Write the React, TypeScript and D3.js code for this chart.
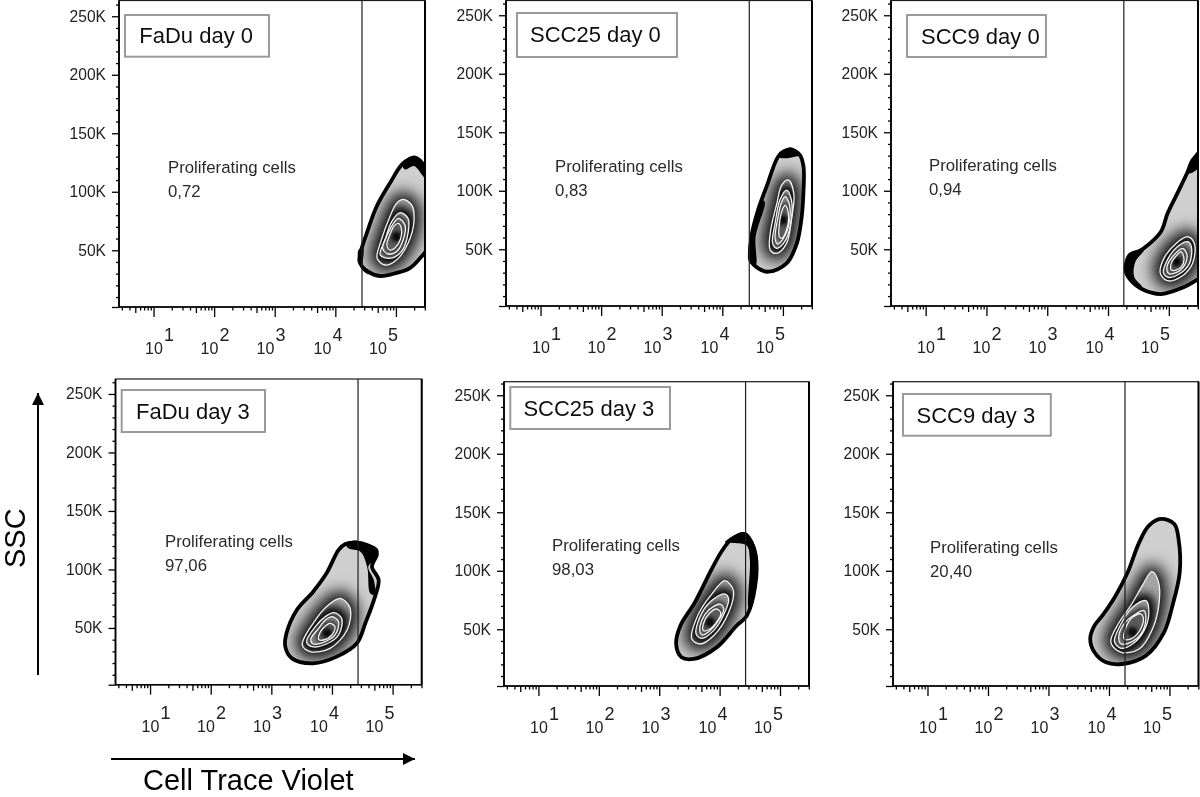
import { useEffect, useRef } from "react";
import * as d3 from "d3";

type Pt = [number, number]; // [log10 Cell Trace Violet, SSC in K]

const panelTitles = ["FaDu day 0", "SCC25 day 0", "SCC9 day 0", "FaDu day 3", "SCC25 day 3", "SCC9 day 3"];
const proliferatingValues = ["0,72", "0,83", "0,94", "97,06", "98,03", "20,40"];
const gateLogs = [4.44, 4.445, 4.26, 4.43, 4.43, 4.265];
const sscMajor = [250, 200, 150, 100, 50];
const decades = [1, 2, 3, 4, 5];

// contours
const fadu0Outline: Pt[] = [[5.31, 128.6], [5.42, 124.3], [5.56, 116], [5.6, 80], [5.5, 50], [5.4, 43.4], [5.23, 34.8], [5.01, 30.6], [4.74, 28], [4.54, 31.7], [4.4, 40.2], [4.42, 48.8], [4.52, 64.7], [4.68, 87.2], [4.9, 107.2], [5.12, 124.3]];
const fadu0Heavy: Pt[][] = [[[5.1, 124], [5.3, 131], [5.48, 124], [5.48, 112], [5.3, 122], [5.15, 119]], [[4.38, 50], [4.46, 52], [4.46, 35], [4.55, 29], [4.42, 35]]];
const fadu0Levels: Pt[][] = [
  [[5.12, 93.5], [5.26, 88.7], [5.3, 75.9], [5.2, 55.9], [5.01, 41.7], [4.82, 37.4], [4.69, 43.1], [4.76, 58.8], [4.9, 78.7], [5.01, 90.1]],
  [[5.07, 82.1], [5.2, 77.3], [5.2, 64.5], [5.09, 48.8], [4.9, 43.1], [4.74, 46], [4.82, 58.8], [4.93, 74.5]],
  [[5.04, 77.3], [5.15, 71.6], [5.12, 58.8], [5.01, 48.8], [4.87, 46.8], [4.78, 51.7], [4.87, 64.5], [4.96, 73]],
  [[5.04, 73], [5.09, 68.8], [5.07, 58.8], [4.98, 51.7], [4.9, 50.2], [4.85, 54.5], [4.91, 64.5], [4.97, 70.8]],
];
const fadu0Peak: Pt = [5.01, 61.6];

const scc250Outline: Pt[] = [[5.14, 134.8], [5.28, 130.5], [5.34, 120.6], [5.34, 100.6], [5.31, 77.8], [5.23, 55], [5.06, 37.9], [4.76, 30.8], [4.57, 34.5], [4.47, 40.8], [4.48, 60.7], [4.59, 83.5], [4.73, 103.5], [4.92, 129.1], [5.03, 134.2]];
const scc250Heavy: Pt[][] = [
  [[4.47, 63.6], [4.65, 92.1], [4.7, 90.6], [4.55, 60.7], [4.55, 36.5], [4.44, 39.4]],
  [[4.92, 129.1], [5.12, 137.1], [5.31, 130.5], [5.2, 129.1], [5.03, 127.7]],
];
const scc250Levels: Pt[][] = [
  [[5.09, 109.2], [5.18, 97.8], [5.14, 75], [5.06, 55], [4.9, 46.5], [4.79, 49.3], [4.79, 63.6], [4.9, 89.2], [4.98, 104.9]],
  [[5.06, 100.6], [5.14, 92.1], [5.13, 72.1], [5.03, 56.5], [4.9, 50.8], [4.83, 55], [4.87, 72.1], [4.95, 92.1]],
  [[5.04, 94.9], [5.11, 87.8], [5.09, 69.3], [5.01, 59.3], [4.91, 54.5], [4.87, 59.3], [4.91, 75], [4.98, 90.6]],
  [[5.04, 87.8], [5.09, 80.7], [5.06, 66.4], [4.98, 59.3], [4.94, 60.7], [4.95, 75], [5.0, 85]],
];
const scc250Peak: Pt = [5.0, 75];

const scc90Outline: Pt[] = [[5.75, 134.8], [5.5, 131.4], [5.39, 126.3], [5.31, 116.3], [5.14, 97.8], [4.98, 80.7], [4.87, 65], [4.59, 50.8], [4.37, 43.6], [4.29, 32.2], [4.37, 23.7], [4.59, 15.1], [4.87, 11.7], [5.2, 16.6], [5.5, 25.1], [5.75, 35]];
const scc90Heavy: Pt[][] = [
  [[4.26, 32.2], [4.34, 46.5], [4.59, 49.3], [4.45, 39.4], [4.43, 26.5], [4.56, 18], [4.37, 22.3]],
  [[5.5, 134.8], [5.5, 120.6], [5.36, 114.9], [5.31, 114.9], [5.39, 127.7]],
];
const scc90Levels: Pt[][] = [
  [[5.31, 60.7], [5.42, 55], [5.39, 37.9], [5.2, 26.5], [4.98, 23.1], [4.86, 29.4], [4.92, 42.2], [5.12, 55]],
  [[5.31, 56.5], [5.37, 52.2], [5.34, 37.9], [5.17, 28.8], [4.99, 26], [4.91, 30], [4.99, 42.2], [5.14, 52.2]],
  [[5.23, 50.8], [5.3, 45.1], [5.26, 36.5], [5.12, 30], [4.99, 29.4], [4.97, 35.1], [5.06, 43.6]],
  [[5.2, 47.9], [5.25, 42.2], [5.21, 35.1], [5.12, 32.2], [5.04, 32.2], [5.04, 37.9], [5.12, 44.2]],
];
const scc90Peak: Pt = [5.13, 39.4];

const fadu3Outline: Pt[] = [[4.42, 122.9], [4.22, 121.8], [4.11, 116.7], [3.91, 96.7], [3.69, 81], [3.42, 65.4], [3.25, 45.4], [3.23, 34], [3.34, 24], [3.69, 19.8], [4.08, 25.5], [4.41, 36.9], [4.55, 54], [4.71, 76.8], [4.77, 91], [4.66, 102.4], [4.74, 112.4], [4.73, 116.7], [4.58, 120.9]];
const fadu3Heavy: Pt[][] = [[[4.22, 122.4], [4.42, 124.6], [4.75, 116.7], [4.74, 109.5], [4.6, 102.4], [4.69, 91], [4.71, 78.2], [4.63, 79.6], [4.58, 102.4], [4.47, 115.2], [4.27, 118.1]]];
const fadu3Levels: Pt[][] = [
  [[4.14, 75.3], [4.3, 66.8], [4.25, 48.3], [3.97, 32.6], [3.64, 29.8], [3.51, 35.5], [3.69, 54], [3.94, 69.6]],
  [[4.03, 63.1], [4.16, 58.3], [4.11, 44], [3.91, 36.3], [3.67, 34], [3.58, 38.3], [3.75, 52.6], [3.89, 59.7]],
  [[4.0, 59.7], [4.11, 55.4], [4.05, 44], [3.89, 38.3], [3.69, 36.3], [3.65, 40.3], [3.78, 49.7], [3.89, 56.8]],
  [[3.97, 54], [4.05, 51.1], [4.0, 44], [3.86, 39.7], [3.78, 40.3], [3.81, 46.9], [3.89, 51.7]],
];
const fadu3Peak: Pt = [3.92, 45.4];

const scc253Outline: Pt[] = [[4.42, 131.4], [4.2, 127.1], [4.04, 117.1], [3.87, 101.5], [3.59, 73], [3.35, 53], [3.28, 37.4], [3.37, 26], [3.57, 24.6], [3.95, 34.5], [4.28, 53], [4.45, 61.6], [4.59, 87.2], [4.6, 112.9], [4.53, 124.3]];
const scc253Heavy: Pt[][] = [[[4.09, 124.3], [4.39, 132.8], [4.53, 127.1], [4.62, 112.9], [4.59, 87.2], [4.5, 68.7], [4.48, 68.7], [4.5, 110], [4.45, 121.4], [4.23, 123.7]]];
const scc253Levels: Pt[][] = [
  [[4.09, 91.5], [4.23, 83], [4.15, 64.4], [3.9, 44.5], [3.68, 37.4], [3.54, 41.6], [3.65, 63], [3.87, 80.1]],
  [[4.09, 80.1], [4.15, 75.8], [4.06, 61.6], [3.9, 48.8], [3.71, 42.2], [3.61, 45.9], [3.71, 64.4], [3.9, 75.8]],
  [[4.01, 71.5], [4.07, 67.3], [3.98, 57.3], [3.84, 48.8], [3.71, 45.1], [3.67, 50.2], [3.76, 63], [3.9, 69.6]],
  [[3.95, 67.3], [4.02, 63.9], [3.93, 54.5], [3.82, 49.6], [3.73, 48.8], [3.73, 54.5], [3.82, 63]],
];
const scc253Peak: Pt = [3.84, 55.9];

const scc93Outline: Pt[] = [[4.86, 144.3], [5.08, 140], [5.15, 127.2], [5.17, 98.7], [5.05, 70.2], [4.91, 47.4], [4.61, 27.4], [4.22, 20.3], [3.95, 21.7], [3.76, 30.3], [3.69, 41.7], [3.76, 53.1], [3.89, 61.6], [4.11, 78.7], [4.31, 98.7], [4.5, 124.3], [4.66, 138.6]];
const scc93Heavy: Pt[][] = [];
const scc93Levels: Pt[][] = [
  [[4.71, 99.2], [4.82, 90.1], [4.83, 73], [4.72, 50.2], [4.5, 33.1], [4.2, 30.3], [4.03, 38.8], [4.17, 56], [4.36, 70.2], [4.55, 87.3]],
  [[4.61, 74.5], [4.66, 64.5], [4.58, 48.8], [4.39, 37.4], [4.2, 33.7], [4.09, 39.4], [4.17, 51.7], [4.39, 68.8]],
  [[4.58, 65.9], [4.61, 58.8], [4.53, 46], [4.36, 38.8], [4.2, 37.4], [4.16, 43.1], [4.25, 54.5], [4.44, 63]],
  [[4.53, 63], [4.57, 57.4], [4.47, 46], [4.33, 41.1], [4.25, 41.7], [4.27, 50.2], [4.39, 60.2]],
];
const scc93Peak: Pt = [4.39, 47.4];

const outlines = [fadu0Outline, scc250Outline, scc90Outline, fadu3Outline, scc253Outline, scc93Outline];
const heavies = [fadu0Heavy, scc250Heavy, scc90Heavy, fadu3Heavy, scc253Heavy, scc93Heavy];
const levelSets = [fadu0Levels, scc250Levels, scc90Levels, fadu3Levels, scc253Levels, scc93Levels];
const peaks = [fadu0Peak, scc250Peak, scc90Peak, fadu3Peak, scc253Peak, scc93Peak];

// page layout, one entry per panel
const frames = [
  { left: 119, right: 425, top: 0.5, bottom: 307 },
  { left: 506, right: 812, top: 0.5, bottom: 306 },
  { left: 891, right: 1198, top: 0.5, bottom: 306 },
  { left: 115.5, right: 421.7, top: 379, bottom: 684.7 },
  { left: 504, right: 809, top: 381.7, bottom: 686 },
  { left: 893, right: 1198.5, top: 381.7, bottom: 686 },
];
const titleBoxes = [
  { x: 125, y: 15, w: 144, h: 41.7, tx: 139.3, ty: 43.3 },
  { x: 517, y: 13, w: 160, h: 44, tx: 530, ty: 42 },
  { x: 907, y: 15, w: 139, h: 42, tx: 921, ty: 44 },
  { x: 121.7, y: 390, w: 143.3, h: 42, tx: 136, ty: 419 },
  { x: 510.3, y: 387, w: 159.7, h: 42, tx: 523.4, ty: 416 },
  { x: 903, y: 394, w: 147.8, h: 41.7, tx: 916.5, ty: 422.7 },
];
const gateLabels = [[168, 172.7], [555, 172], [929, 171], [165, 547], [552, 551], [930, 553]];
const decadeLabelOffsets = [26, 81.5, 137.5, 194.5, 250];
const shades = ["#a4a4a4", "#969696", "#808080", "#5a5a5a"];
const blurs = [8, 5, 3, 2];
const widens = [14, 5, 3];
const FONT = "'Liberation Sans', Arial, sans-serif";

const App = () => {
  const svgRef = useRef<SVGSVGElement>(null);

  useEffect(() => {
    const root = d3.select(svgRef.current);
    root.selectAll("*").remove();
    const defs = root.append("defs");

    blurs.forEach((b, i) => {
      defs.append("filter").attr("id", `blur${i}`)
        .attr("x", "-60%").attr("y", "-60%").attr("width", "220%").attr("height", "220%")
        .append("feGaussianBlur").attr("stdDeviation", b);
    });
    // the source is a soft scan
    defs.append("filter").attr("id", "soft").attr("filterUnits", "userSpaceOnUse")
      .attr("x", 0).attr("y", 0).attr("width", 1200).attr("height", 797)
      .append("feGaussianBlur").attr("stdDeviation", 0.35);
    const head = defs.append("marker").attr("id", "arrow").attr("markerUnits", "userSpaceOnUse")
      .attr("markerWidth", 12).attr("markerHeight", 12).attr("refX", 12).attr("refY", 6).attr("orient", "auto");
    head.append("path").attr("d", "M0,0L12,6L0,12Z").attr("fill", "#000");

    const svg = root.append("g").attr("filter", "url(#soft)");
    svg.append("rect").attr("width", 1200).attr("height", 797).attr("fill", "#fff");

    frames.forEach((f, i) => {
      const x = d3.scaleLog().domain([10 ** 0.43, 10 ** 5.48]).range([f.left, f.right]);
      const y = d3.scaleLinear().domain([1.5, 1.5 + (f.bottom - f.top) / 1.17]).range([f.bottom, f.top]);
      const closed = d3.line<Pt>().x(d => x(10 ** d[0])).y(d => y(d[1])).curve(d3.curveCatmullRomClosed.alpha(0.5));
      const levels = levelSets[i];
      const panel = svg.append("g");

      const addClip = (id: string, pts: Pt[] | null) => {
        const c = defs.append("clipPath").attr("id", id);
        if (pts) c.append("path").attr("d", closed(pts));
        else c.append("rect").attr("x", f.left).attr("y", f.top).attr("width", f.right - f.left).attr("height", f.bottom - f.top);
      };
      addClip(`frame${i}`, null);
      addClip(`outer${i}`, outlines[i]);
      levels.forEach((l, j) => addClip(`lvl${i}-${j}`, l));

      const plot = panel.append("g").attr("clip-path", `url(#frame${i})`);
      plot.append("path").attr("d", closed(outlines[i])).attr("fill", "#cfcfcf");
      plot.append("g").attr("clip-path", `url(#outer${i})`)
        .append("path").attr("d", closed(levels[0])).attr("fill", "#000")
        .attr("stroke", "#000").attr("stroke-width", widens[0]).attr("filter", "url(#blur0)");

      levels.forEach((l, j) => {
        const g = plot.append("g").attr("clip-path", `url(#lvl${i}-${j})`);
        g.append("path").attr("d", closed(l)).attr("fill", shades[j]);
        if (j < levels.length - 1) {
          g.append("path").attr("d", closed(levels[j + 1])).attr("fill", "#000")
            .attr("stroke", "#000").attr("stroke-width", widens[j]).attr("filter", `url(#blur${j + 1})`);
        } else {
          g.append("circle").attr("cx", x(10 ** peaks[i][0])).attr("cy", y(peaks[i][1])).attr("r", 5)
            .attr("fill", "#000").attr("filter", "url(#blur3)");
        }
      });

      plot.append("path").attr("d", closed(outlines[i])).attr("fill", "none").attr("stroke", "#000").attr("stroke-width", 3.8);
      heavies[i].forEach(h => {
        plot.append("path").attr("d", closed(h)).attr("fill", "#000");
      });
      levels.forEach(l => {
        plot.append("path").attr("d", closed(l)).attr("fill", "none").attr("stroke", "#f4f4f4").attr("stroke-width", 1.3);
      });

      // gate
      panel.append("line").attr("x1", x(10 ** gateLogs[i])).attr("x2", x(10 ** gateLogs[i]))
        .attr("y1", f.top).attr("y2", f.bottom).attr("stroke", "#1e1e1e").attr("stroke-width", 1.2);

      // y axis
      const styleAxis = (a: any) => {
        a.select(".domain").remove();
        a.selectAll("line").attr("stroke", "#000").attr("stroke-width", 1.3);
        a.selectAll("text").attr("font-family", FONT).attr("font-size", 15.6).attr("fill", "#222");
      };
      const sscMinor = d3.range(10, 261, 10).filter(v => v % 50 !== 0);
      panel.append("g").attr("transform", `translate(${f.left},0)`)
        .call(d3.axisLeft(y).tickValues(sscMajor.concat([1.5])).tickSize(7).tickPadding(6)
          .tickFormat(d => (+d > 2 ? `${d}K` : "")))
        .call(styleAxis);
      panel.append("g").attr("transform", `translate(${f.left},0)`)
        .call(d3.axisLeft(y).tickValues(sscMinor).tickSize(3).tickFormat(() => ""))
        .call(styleAxis);

      // x axis
      const logMinor: number[] = [];
      const logMid: number[] = [];
      d3.range(0, 6).forEach(d => {
        d3.range(2, 10).forEach(k => {
          const v = k * 10 ** d;
          if (v < 10 ** 0.43 || v > 10 ** 5.48) return;
          (k === 5 ? logMid : logMinor).push(v);
        });
      });
      const bottomAxis = (values: number[], size: number) =>
        panel.append("g").attr("transform", `translate(0,${f.bottom})`)
          .call(d3.axisBottom(x).tickValues(values).tickSize(size).tickFormat(() => ""))
          .call(styleAxis);
      bottomAxis(decades.map(d => 10 ** d), 10);
      bottomAxis(logMid, 6);
      bottomAxis(logMinor, 3.5);

      decades.forEach((d, j) => {
        const tx = f.left + decadeLabelOffsets[j];
        panel.append("text").attr("x", tx).attr("y", f.bottom + 47).text("10")
          .attr("font-family", FONT).attr("font-size", 16).attr("fill", "#222");
        panel.append("text").attr("x", tx + 19).attr("y", f.bottom + 34).text(d)
          .attr("font-family", FONT).attr("font-size", 18).attr("fill", "#222");
      });

      // frame
      panel.append("rect").attr("x", f.left).attr("y", f.top)
        .attr("width", f.right - f.left).attr("height", f.bottom - f.top)
        .attr("fill", "none").attr("stroke", "#1a1a1a").attr("stroke-width", 1.2);
      panel.append("line").attr("x1", f.left).attr("x2", f.left).attr("y1", f.top).attr("y2", f.bottom)
        .attr("stroke", "#000").attr("stroke-width", 1.8);
      panel.append("line").attr("x1", f.right).attr("x2", f.right).attr("y1", f.top).attr("y2", f.bottom)
        .attr("stroke", "#000").attr("stroke-width", 2);
      panel.append("line").attr("x1", f.left).attr("x2", f.right).attr("y1", f.bottom).attr("y2", f.bottom)
        .attr("stroke", "#000").attr("stroke-width", 1.6);

      // title box and gate label
      const b = titleBoxes[i];
      panel.append("rect").attr("x", b.x).attr("y", b.y).attr("width", b.w).attr("height", b.h)
        .attr("fill", "#fff").attr("stroke", "#9a9a9a").attr("stroke-width", 2);
      panel.append("text").attr("x", b.tx).attr("y", b.ty).text(panelTitles[i])
        .attr("font-family", FONT).attr("font-size", 22).attr("fill", "#111");
      const [lx, ly] = gateLabels[i];
      panel.append("text").attr("x", lx).attr("y", ly).text("Proliferating cells")
        .attr("font-family", FONT).attr("font-size", 16.8).attr("fill", "#2a2a2a");
      panel.append("text").attr("x", lx).attr("y", ly + 24).text(proliferatingValues[i])
        .attr("font-family", FONT).attr("font-size", 16.8).attr("fill", "#2a2a2a");
    });

    // shared axis titles
    svg.append("line").attr("x1", 38).attr("x2", 38).attr("y1", 675).attr("y2", 393)
      .attr("stroke", "#000").attr("stroke-width", 2).attr("marker-end", "url(#arrow)");
    svg.append("line").attr("x1", 111).attr("x2", 415).attr("y1", 759).attr("y2", 759)
      .attr("stroke", "#000").attr("stroke-width", 2).attr("marker-end", "url(#arrow)");
    svg.append("text").attr("transform", "translate(25,568) rotate(-90)").text("SSC")
      .attr("font-family", FONT).attr("font-size", 29).attr("fill", "#000");
    svg.append("text").attr("x", 143).attr("y", 790).text("Cell Trace Violet")
      .attr("font-family", FONT).attr("font-size", 29).attr("fill", "#000");
  }, []);

  return (
    <svg ref={svgRef} width={1200} height={797}
      style={{ position: "absolute", left: 0, top: 0, background: "#fff" }}></svg>
  );
};

export default App;
